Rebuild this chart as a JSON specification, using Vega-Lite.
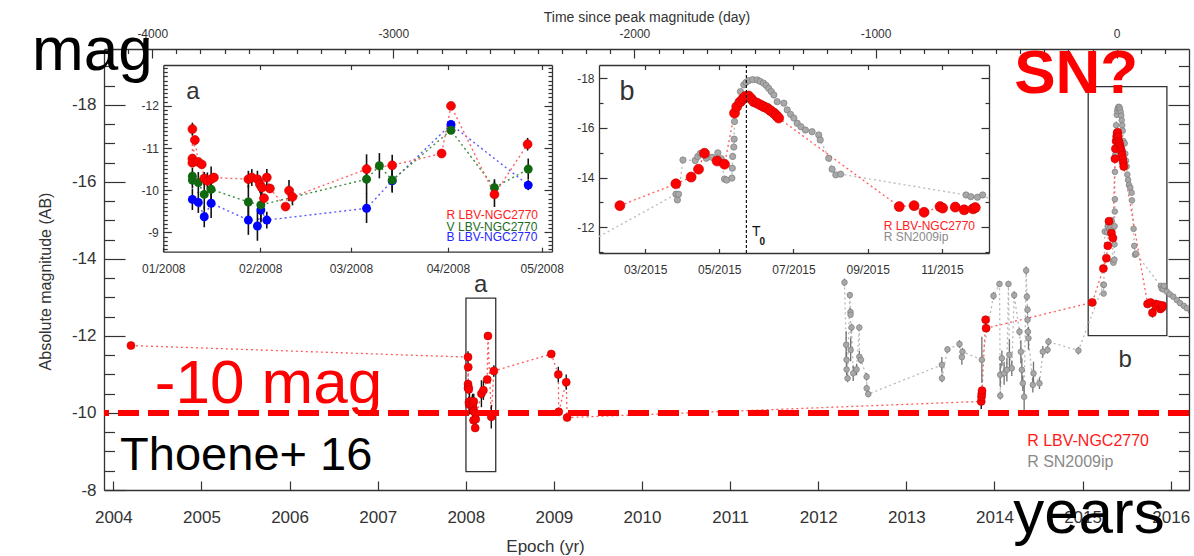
{
"$schema": "https://vega.github.io/schema/vega-lite/v6.json",
"width": 1085, "height": 441,
"autosize": {"type": "none"},
"padding": {"left": 104, "top": 49, "right": 5, "bottom": 66},
"background": "#ffffff",
"config": {
  "view": {"stroke": null},
  "axis": {"grid": false, "labelFont": "Liberation Sans", "titleFont": "Liberation Sans", "labelColor": "#333333", "titleColor": "#333333", "domainColor": "#333333", "tickColor": "#333333", "titleFontWeight": "normal", "domainWidth": 1.3, "tickWidth": 1.2, "labelFlush": false, "labelOverlap": false},
  "text": {"font": "Liberation Sans"}
},
"datasets": {
  "boxes": [
    {"x1": 2008.002, "x2": 2008.34, "y1": -12.98, "y2": -8.475},
    {"x1": 2015.064, "x2": 2015.957, "y1": -18.475, "y2": -12.01}
  ],
  "main": [
    {"s":"L","yr":2004.2,"mag":-11.75,"err":0.05},
    {"s":"L","yr":2008.0254,"mag":-11.45,"err":0.15},
    {"s":"L","yr":2008.0254,"mag":-10.75,"err":0.1},
    {"s":"L","yr":2008.0254,"mag":-10.65,"err":0.1},
    {"s":"L","yr":2008.0276,"mag":-11.19,"err":0.1},
    {"s":"L","yr":2008.0306,"mag":-10.67,"err":0.08},
    {"s":"L","yr":2008.0336,"mag":-10.61,"err":0.08},
    {"s":"L","yr":2008.0358,"mag":-10.28,"err":0.15},
    {"s":"L","yr":2008.0385,"mag":-10.22,"err":0.2},
    {"s":"L","yr":2008.0418,"mag":-10.26,"err":0.3},
    {"s":"L","yr":2008.0443,"mag":-10.3,"err":0.1},
    {"s":"L","yr":2008.0743,"mag":-10.26,"err":0.2},
    {"s":"L","yr":2008.0773,"mag":-10.3,"err":0.2},
    {"s":"L","yr":2008.0822,"mag":-10.26,"err":0.2},
    {"s":"L","yr":2008.0844,"mag":-10.14,"err":0.2},
    {"s":"L","yr":2008.0861,"mag":-10.06,"err":0.2},
    {"s":"L","yr":2008.088,"mag":-9.81,"err":0.1},
    {"s":"L","yr":2008.0904,"mag":-10.3,"err":0.2},
    {"s":"L","yr":2008.0932,"mag":-10.04,"err":0.1},
    {"s":"L","yr":2008.1068,"mag":-9.61,"err":0.05},
    {"s":"L","yr":2008.1098,"mag":-9.99,"err":0.25},
    {"s":"L","yr":2008.1128,"mag":-9.84,"err":0.2},
    {"s":"L","yr":2008.1776,"mag":-10.5,"err":0.35},
    {"s":"L","yr":2008.2,"mag":-10.59,"err":0.25},
    {"s":"L","yr":2008.2432,"mag":-10.87,"err":0.05},
    {"s":"L","yr":2008.2514,"mag":-12.0,"err":0.05},
    {"s":"L","yr":2008.2893,"mag":-9.9,"err":0.3},
    {"s":"L","yr":2008.3183,"mag":-11.09,"err":0.15},
    {"s":"L","yr":2008.97,"mag":-11.53,"err":0.05},
    {"s":"L","yr":2009.05,"mag":-11.0,"err":0.2},
    {"s":"L","yr":2009.055,"mag":-10.03,"err":0.05},
    {"s":"L","yr":2009.14,"mag":-10.8,"err":0.2},
    {"s":"L","yr":2009.15,"mag":-9.88,"err":0.05},
    {"s":"L","yr":2013.85,"mag":-10.3,"err":0.2},
    {"s":"L","yr":2013.853,"mag":-10.42,"err":0.1},
    {"s":"L","yr":2013.856,"mag":-10.5,"err":0.1},
    {"s":"L","yr":2013.859,"mag":-10.58,"err":0.1},
    {"s":"L","yr":2013.9,"mag":-12.42,"err":0.1},
    {"s":"L","yr":2013.905,"mag":-12.2,"err":0.1},
    {"s":"L","yr":2015.11,"mag":-12.87},
    {"s":"L","yr":2015.236,"mag":-13.75},
    {"s":"L","yr":2015.27,"mag":-14.02},
    {"s":"L","yr":2015.287,"mag":-14.34},
    {"s":"L","yr":2015.3,"mag":-14.98},
    {"s":"L","yr":2015.328,"mag":-14.67},
    {"s":"L","yr":2015.345,"mag":-14.54},
    {"s":"L","yr":2015.3675,"mag":-16.6},
    {"s":"L","yr":2015.3725,"mag":-16.86},
    {"s":"L","yr":2015.381,"mag":-17.06},
    {"s":"L","yr":2015.387,"mag":-17.18},
    {"s":"L","yr":2015.392,"mag":-17.27},
    {"s":"L","yr":2015.399,"mag":-17.29},
    {"s":"L","yr":2015.405,"mag":-17.18},
    {"s":"L","yr":2015.411,"mag":-17.06},
    {"s":"L","yr":2015.418,"mag":-17.0},
    {"s":"L","yr":2015.426,"mag":-16.93},
    {"s":"L","yr":2015.433,"mag":-16.86},
    {"s":"L","yr":2015.441,"mag":-16.8},
    {"s":"L","yr":2015.448,"mag":-16.7},
    {"s":"L","yr":2015.456,"mag":-16.6},
    {"s":"L","yr":2015.462,"mag":-16.5},
    {"s":"L","yr":2015.467,"mag":-16.4},
    {"s":"L","yr":2015.7375,"mag":-12.83},
    {"s":"L","yr":2015.771,"mag":-12.87},
    {"s":"L","yr":2015.793,"mag":-12.6,"err":0.12},
    {"s":"L","yr":2015.829,"mag":-12.83},
    {"s":"L","yr":2015.835,"mag":-12.77},
    {"s":"L","yr":2015.863,"mag":-12.81},
    {"s":"L","yr":2015.883,"mag":-12.7},
    {"s":"L","yr":2015.903,"mag":-12.74},
    {"s":"L","yr":2015.908,"mag":-12.79},
    {"s":"S","yr":2012.298,"mag":-13.39,"err":0.1},
    {"s":"S","yr":2012.317,"mag":-11.77,"err":0.35},
    {"s":"S","yr":2012.321,"mag":-11.38,"err":0.2},
    {"s":"S","yr":2012.322,"mag":-11.13,"err":0.15},
    {"s":"S","yr":2012.333,"mag":-10.9,"err":0.1},
    {"s":"S","yr":2012.359,"mag":-13.06,"err":0.08},
    {"s":"S","yr":2012.366,"mag":-12.62,"err":0.1},
    {"s":"S","yr":2012.367,"mag":-12.55},
    {"s":"S","yr":2012.368,"mag":-11.64,"err":0.3},
    {"s":"S","yr":2012.378,"mag":-12.22,"err":0.1},
    {"s":"S","yr":2012.397,"mag":-11.03,"err":0.2},
    {"s":"S","yr":2012.435,"mag":-11.13,"err":0.15},
    {"s":"S","yr":2012.466,"mag":-12.22,"err":0.08},
    {"s":"S","yr":2012.467,"mag":-11.46,"err":0.15},
    {"s":"S","yr":2012.485,"mag":-11.38,"err":0.1},
    {"s":"S","yr":2012.549,"mag":-10.94,"err":0.1},
    {"s":"S","yr":2012.55,"mag":-10.64,"err":0.1},
    {"s":"S","yr":2012.568,"mag":-10.49,"err":0.08},
    {"s":"S","yr":2013.403,"mag":-11.25,"err":0.2},
    {"s":"S","yr":2013.404,"mag":-10.9,"err":0.1},
    {"s":"S","yr":2013.467,"mag":-11.65,"err":0.08},
    {"s":"S","yr":2013.603,"mag":-11.79,"err":0.1},
    {"s":"S","yr":2013.63,"mag":-11.45,"err":0.2},
    {"s":"S","yr":2013.637,"mag":-11.59,"err":0.1},
    {"s":"S","yr":2013.857,"mag":-11.38,"err":0.6},
    {"s":"S","yr":2013.989,"mag":-13.04,"err":0.1},
    {"s":"S","yr":2014.057,"mag":-13.35,"err":0.08},
    {"s":"S","yr":2014.065,"mag":-10.99,"err":0.3},
    {"s":"S","yr":2014.066,"mag":-10.45,"err":0.1},
    {"s":"S","yr":2014.084,"mag":-11.42,"err":0.2},
    {"s":"S","yr":2014.11,"mag":-11.03,"err":0.3},
    {"s":"S","yr":2014.141,"mag":-11.12,"err":0.3},
    {"s":"S","yr":2014.159,"mag":-13.35,"err":0.08},
    {"s":"S","yr":2014.17,"mag":-11.51,"err":0.4},
    {"s":"S","yr":2014.197,"mag":-11.16,"err":0.2},
    {"s":"S","yr":2014.224,"mag":-13.06,"err":0.1},
    {"s":"S","yr":2014.284,"mag":-12.11,"err":0.1},
    {"s":"S","yr":2014.3,"mag":-11.59,"err":0.3},
    {"s":"S","yr":2014.311,"mag":-11.12,"err":0.3},
    {"s":"S","yr":2014.322,"mag":-10.77,"err":0.2},
    {"s":"S","yr":2014.337,"mag":-10.42,"err":0.4},
    {"s":"S","yr":2014.36,"mag":-13.7,"err":0.1},
    {"s":"S","yr":2014.368,"mag":-13.02,"err":0.1},
    {"s":"S","yr":2014.375,"mag":-12.68,"err":0.1},
    {"s":"S","yr":2014.376,"mag":-12.42,"err":0.1},
    {"s":"S","yr":2014.38,"mag":-12.11,"err":0.1},
    {"s":"S","yr":2014.386,"mag":-11.94,"err":0.3},
    {"s":"S","yr":2014.436,"mag":-10.73,"err":0.2},
    {"s":"S","yr":2014.443,"mag":-11.03,"err":0.3},
    {"s":"S","yr":2014.511,"mag":-10.77,"err":0.15},
    {"s":"S","yr":2014.549,"mag":-11.59,"err":0.15},
    {"s":"S","yr":2014.602,"mag":-11.64,"err":0.1},
    {"s":"S","yr":2014.613,"mag":-11.85,"err":0.1},
    {"s":"S","yr":2014.953,"mag":-11.62,"err":0.1},
    {"s":"S","yr":2015.2358,"mag":-13.33},
    {"s":"S","yr":2015.2392,"mag":-13.1},
    {"s":"S","yr":2015.2417,"mag":-13.33},
    {"s":"S","yr":2015.2517,"mag":-14.71},
    {"s":"S","yr":2015.2792,"mag":-14.69},
    {"s":"S","yr":2015.285,"mag":-14.85},
    {"s":"S","yr":2015.2908,"mag":-14.98},
    {"s":"S","yr":2015.3042,"mag":-14.78},
    {"s":"S","yr":2015.3167,"mag":-14.82},
    {"s":"S","yr":2015.33,"mag":-15.0},
    {"s":"S","yr":2015.3375,"mag":-14.76},
    {"s":"S","yr":2015.345,"mag":-13.94},
    {"s":"S","yr":2015.35,"mag":-13.9},
    {"s":"S","yr":2015.3617,"mag":-13.98},
    {"s":"S","yr":2015.3625,"mag":-14.38},
    {"s":"S","yr":2015.3633,"mag":-14.85},
    {"s":"S","yr":2015.3658,"mag":-15.23},
    {"s":"S","yr":2015.3667,"mag":-15.55},
    {"s":"S","yr":2015.3675,"mag":-16.26},
    {"s":"S","yr":2015.37,"mag":-16.7},
    {"s":"S","yr":2015.375,"mag":-17.06},
    {"s":"S","yr":2015.3808,"mag":-17.47},
    {"s":"S","yr":2015.3883,"mag":-17.74},
    {"s":"S","yr":2015.3933,"mag":-17.84},
    {"s":"S","yr":2015.3992,"mag":-17.91},
    {"s":"S","yr":2015.4083,"mag":-17.95},
    {"s":"S","yr":2015.4183,"mag":-17.94},
    {"s":"S","yr":2015.425,"mag":-17.88},
    {"s":"S","yr":2015.4325,"mag":-17.81},
    {"s":"S","yr":2015.4383,"mag":-17.72},
    {"s":"S","yr":2015.4442,"mag":-17.6},
    {"s":"S","yr":2015.45,"mag":-17.47},
    {"s":"S","yr":2015.4558,"mag":-17.33},
    {"s":"S","yr":2015.4633,"mag":-17.06},
    {"s":"S","yr":2015.4783,"mag":-17.0},
    {"s":"S","yr":2015.4858,"mag":-16.73},
    {"s":"S","yr":2015.4933,"mag":-16.55},
    {"s":"S","yr":2015.5008,"mag":-16.4},
    {"s":"S","yr":2015.5083,"mag":-16.19},
    {"s":"S","yr":2015.5167,"mag":-16.05},
    {"s":"S","yr":2015.5267,"mag":-15.92},
    {"s":"S","yr":2015.5417,"mag":-15.85},
    {"s":"S","yr":2015.5567,"mag":-15.72},
    {"s":"S","yr":2015.56,"mag":-15.52},
    {"s":"S","yr":2015.5792,"mag":-14.78},
    {"s":"S","yr":2015.5867,"mag":-14.34},
    {"s":"S","yr":2015.595,"mag":-14.11},
    {"s":"S","yr":2015.6058,"mag":-14.14},
    {"s":"S","yr":2015.8875,"mag":-13.3},
    {"s":"S","yr":2015.8983,"mag":-13.23},
    {"s":"S","yr":2015.9133,"mag":-13.21},
    {"s":"S","yr":2015.925,"mag":-13.3},
    {"s":"S","yr":2015.957,"mag":-13.15},
    {"s":"S","yr":2015.99,"mag":-13.08},
    {"s":"S","yr":2016.03,"mag":-13.02},
    {"s":"S","yr":2016.07,"mag":-12.93},
    {"s":"S","yr":2016.107,"mag":-12.85},
    {"s":"S","yr":2016.15,"mag":-12.78},
    {"s":"S","yr":2016.183,"mag":-12.72},
    {"s":"S","yr":2016.23,"mag":-12.64}
  ],
  "insa": [
    {"b":"B","day":9.3,"mag":-9.78,"err":0.25},
    {"b":"B","day":11.2,"mag":-9.71,"err":0.25},
    {"b":"B","day":13.1,"mag":-9.37,"err":0.25},
    {"b":"B","day":15.3,"mag":-9.69,"err":0.35},
    {"b":"B","day":27.2,"mag":-9.29,"err":0.35},
    {"b":"B","day":30.1,"mag":-9.15,"err":0.35},
    {"b":"B","day":31.2,"mag":-9.53,"err":0.3},
    {"b":"B","day":33.1,"mag":-9.29,"err":0.2},
    {"b":"B","day":65.0,"mag":-9.57,"err":0.35},
    {"b":"B","day":73.2,"mag":-10.22,"err":0.25},
    {"b":"B","day":92.0,"mag":-11.56,"err":0.05},
    {"b":"B","day":116.7,"mag":-10.12,"err":0.12},
    {"b":"V","day":9.3,"mag":-10.33,"err":0.2},
    {"b":"V","day":9.3,"mag":-10.24,"err":0.2},
    {"b":"V","day":11.2,"mag":-10.18,"err":0.25},
    {"b":"V","day":13.1,"mag":-9.9,"err":0.35},
    {"b":"V","day":15.3,"mag":-10.02,"err":0.3},
    {"b":"V","day":27.2,"mag":-9.72,"err":0.4},
    {"b":"V","day":31.2,"mag":-9.65,"err":0.4},
    {"b":"V","day":65.0,"mag":-10.26,"err":0.35},
    {"b":"V","day":69.1,"mag":-10.58,"err":0.3},
    {"b":"V","day":73.2,"mag":-10.24,"err":0.3},
    {"b":"V","day":92.0,"mag":-11.42,"err":0.05},
    {"b":"V","day":105.9,"mag":-10.06,"err":0.2},
    {"b":"V","day":116.7,"mag":-10.5,"err":0.25},
    {"b":"R","day":9.3,"mag":-11.45,"err":0.15},
    {"b":"R","day":9.3,"mag":-10.75,"err":0.1},
    {"b":"R","day":9.3,"mag":-10.65,"err":0.1},
    {"b":"R","day":10.1,"mag":-11.19,"err":0.1},
    {"b":"R","day":11.2,"mag":-10.67,"err":0.08},
    {"b":"R","day":12.3,"mag":-10.61,"err":0.08},
    {"b":"R","day":13.1,"mag":-10.28,"err":0.15},
    {"b":"R","day":14.1,"mag":-10.22,"err":0.2},
    {"b":"R","day":15.3,"mag":-10.26,"err":0.3},
    {"b":"R","day":16.2,"mag":-10.3,"err":0.1},
    {"b":"R","day":27.2,"mag":-10.26,"err":0.2},
    {"b":"R","day":28.3,"mag":-10.3,"err":0.2},
    {"b":"R","day":30.1,"mag":-10.26,"err":0.2},
    {"b":"R","day":30.9,"mag":-10.14,"err":0.2},
    {"b":"R","day":31.5,"mag":-10.06,"err":0.2},
    {"b":"R","day":32.2,"mag":-9.81,"err":0.1},
    {"b":"R","day":33.1,"mag":-10.3,"err":0.2},
    {"b":"R","day":34.1,"mag":-10.04,"err":0.1},
    {"b":"R","day":39.1,"mag":-9.61,"err":0.05},
    {"b":"R","day":40.2,"mag":-9.99,"err":0.25},
    {"b":"R","day":41.3,"mag":-9.84,"err":0.2},
    {"b":"R","day":65.0,"mag":-10.5,"err":0.35},
    {"b":"R","day":73.2,"mag":-10.59,"err":0.25},
    {"b":"R","day":89.0,"mag":-10.87,"err":0.05},
    {"b":"R","day":92.0,"mag":-12.0,"err":0.05},
    {"b":"R","day":105.9,"mag":-9.9,"err":0.3},
    {"b":"R","day":116.5,"mag":-11.09,"err":0.15}
  ],
  "insb": [
    {"s":"S","m":-0.56,"mag":-11.62},
    {"s":"S","m":2.83,"mag":-13.33,"err":0.08},
    {"s":"S","m":2.87,"mag":-13.1,"err":0.08},
    {"s":"S","m":2.9,"mag":-13.33},
    {"s":"S","m":3.02,"mag":-14.71},
    {"s":"S","m":3.35,"mag":-14.69},
    {"s":"S","m":3.42,"mag":-14.85},
    {"s":"S","m":3.49,"mag":-14.98},
    {"s":"S","m":3.65,"mag":-14.78},
    {"s":"S","m":3.8,"mag":-14.82},
    {"s":"S","m":3.96,"mag":-15.0},
    {"s":"S","m":4.05,"mag":-14.76},
    {"s":"S","m":4.14,"mag":-13.94,"err":0.08},
    {"s":"S","m":4.2,"mag":-13.9},
    {"s":"S","m":4.34,"mag":-13.98,"err":0.08},
    {"s":"S","m":4.35,"mag":-14.38},
    {"s":"S","m":4.36,"mag":-14.85},
    {"s":"S","m":4.39,"mag":-15.23},
    {"s":"S","m":4.4,"mag":-15.55},
    {"s":"S","m":4.41,"mag":-16.26},
    {"s":"S","m":4.44,"mag":-16.7},
    {"s":"S","m":4.5,"mag":-17.06},
    {"s":"S","m":4.57,"mag":-17.47},
    {"s":"S","m":4.66,"mag":-17.74},
    {"s":"S","m":4.72,"mag":-17.84},
    {"s":"S","m":4.79,"mag":-17.91},
    {"s":"S","m":4.9,"mag":-17.95},
    {"s":"S","m":5.02,"mag":-17.94},
    {"s":"S","m":5.1,"mag":-17.88},
    {"s":"S","m":5.19,"mag":-17.81},
    {"s":"S","m":5.26,"mag":-17.72},
    {"s":"S","m":5.33,"mag":-17.6},
    {"s":"S","m":5.4,"mag":-17.47},
    {"s":"S","m":5.47,"mag":-17.33},
    {"s":"S","m":5.56,"mag":-17.06},
    {"s":"S","m":5.74,"mag":-17.0},
    {"s":"S","m":5.83,"mag":-16.73},
    {"s":"S","m":5.92,"mag":-16.55},
    {"s":"S","m":6.01,"mag":-16.4},
    {"s":"S","m":6.1,"mag":-16.19},
    {"s":"S","m":6.2,"mag":-16.05},
    {"s":"S","m":6.32,"mag":-15.92},
    {"s":"S","m":6.5,"mag":-15.85},
    {"s":"S","m":6.68,"mag":-15.72},
    {"s":"S","m":6.72,"mag":-15.52},
    {"s":"S","m":6.95,"mag":-14.78},
    {"s":"S","m":7.04,"mag":-14.34},
    {"s":"S","m":7.14,"mag":-14.11,"err":0.08},
    {"s":"S","m":7.27,"mag":-14.14},
    {"s":"S","m":10.65,"mag":-13.3},
    {"s":"S","m":10.78,"mag":-13.23},
    {"s":"S","m":10.96,"mag":-13.21},
    {"s":"S","m":11.1,"mag":-13.3},
    {"s":"S","m":11.48,"mag":-13.15},
    {"s":"L","m":1.32,"mag":-12.87},
    {"s":"L","m":2.83,"mag":-13.75},
    {"s":"L","m":3.24,"mag":-14.02},
    {"s":"L","m":3.44,"mag":-14.34},
    {"s":"L","m":3.6,"mag":-14.98},
    {"s":"L","m":3.94,"mag":-14.67},
    {"s":"L","m":4.14,"mag":-14.54},
    {"s":"L","m":4.41,"mag":-16.6},
    {"s":"L","m":4.47,"mag":-16.86},
    {"s":"L","m":4.57,"mag":-17.06},
    {"s":"L","m":4.64,"mag":-17.18},
    {"s":"L","m":4.7,"mag":-17.27},
    {"s":"L","m":4.79,"mag":-17.29},
    {"s":"L","m":4.86,"mag":-17.18},
    {"s":"L","m":4.93,"mag":-17.06},
    {"s":"L","m":5.02,"mag":-17.0},
    {"s":"L","m":5.11,"mag":-16.93},
    {"s":"L","m":5.2,"mag":-16.86},
    {"s":"L","m":5.29,"mag":-16.8},
    {"s":"L","m":5.38,"mag":-16.7},
    {"s":"L","m":5.47,"mag":-16.6},
    {"s":"L","m":5.54,"mag":-16.5},
    {"s":"L","m":5.6,"mag":-16.4},
    {"s":"L","m":8.85,"mag":-12.83},
    {"s":"L","m":9.25,"mag":-12.87},
    {"s":"L","m":9.52,"mag":-12.6,"err":0.12},
    {"s":"L","m":9.95,"mag":-12.83},
    {"s":"L","m":10.02,"mag":-12.77},
    {"s":"L","m":10.36,"mag":-12.81},
    {"s":"L","m":10.6,"mag":-12.7},
    {"s":"L","m":10.84,"mag":-12.74},
    {"s":"L","m":10.9,"mag":-12.79}
  ]
},
"layer": [
  {
    "layer": [
      {"data": {"name": "boxes"}, "mark": {"type": "rect", "fill": "#ffffff", "fillOpacity": 0, "stroke": "#333333", "strokeWidth": 1.3},
       "encoding": {"x": {"field": "x1", "type": "quantitative", "scale": {"domain": [2003.894, 2016.208], "range": [0, 1085], "nice": false, "zero": false}, "axis": null}, "x2": {"field": "x2"},
                    "y": {"field": "y1", "type": "quantitative", "scale": {"domain": [-19.45, -8], "range": [0, 441], "nice": false, "zero": false}, "axis": null}, "y2": {"field": "y2"}}},
      {"data": {"name": "main"}, "transform": [{"filter": "datum.s == 'S'"}], "mark": {"type": "line", "color": "#b8b8b8", "strokeWidth": 1.3, "strokeDash": [2, 3], "clip": true},
       "encoding": {"x": {"field": "yr", "type": "quantitative", "scale": {"domain": [2003.894, 2016.208], "range": [0, 1085], "nice": false, "zero": false}, "axis": null},
                    "y": {"field": "mag", "type": "quantitative", "scale": {"domain": [-19.45, -8], "range": [0, 441], "nice": false, "zero": false}, "axis": null}}},
      {"data": {"name": "main"}, "transform": [{"filter": "datum.s == 'L'"}], "mark": {"type": "line", "color": "#ff5a5a", "strokeWidth": 1.3, "strokeDash": [2, 3], "clip": true},
       "encoding": {"x": {"field": "yr", "type": "quantitative", "scale": {"domain": [2003.894, 2016.208], "range": [0, 1085], "nice": false, "zero": false}, "axis": null},
                    "y": {"field": "mag", "type": "quantitative", "scale": {"domain": [-19.45, -8], "range": [0, 441], "nice": false, "zero": false}, "axis": null}}},
      {"data": {"name": "main"}, "transform": [{"filter": "datum.s == 'S' && datum.err > 0"}], "mark": {"type": "errorbar", "color": "#707070", "thickness": 1.3},
       "encoding": {"x": {"field": "yr", "type": "quantitative", "scale": {"domain": [2003.894, 2016.208], "range": [0, 1085], "nice": false, "zero": false}, "axis": null},
                    "y": {"field": "mag", "type": "quantitative", "scale": {"domain": [-19.45, -8], "range": [0, 441], "nice": false, "zero": false}, "axis": null},
                    "yError": {"field": "err"}}},
      {"data": {"name": "main"}, "transform": [{"filter": "datum.s == 'L' && datum.err > 0"}], "mark": {"type": "errorbar", "color": "#111111", "thickness": 1.4},
       "encoding": {"x": {"field": "yr", "type": "quantitative", "scale": {"domain": [2003.894, 2016.208], "range": [0, 1085], "nice": false, "zero": false}, "axis": null},
                    "y": {"field": "mag", "type": "quantitative", "scale": {"domain": [-19.45, -8], "range": [0, 441], "nice": false, "zero": false}, "axis": null},
                    "yError": {"field": "err"}}},
      {"data": {"name": "main"}, "transform": [{"filter": "datum.s == 'S'"}], "mark": {"type": "point", "filled": true, "color": "#a8a8a8", "stroke": "#7c7c7c", "strokeWidth": 0.7, "size": 32, "opacity": 1, "clip": true},
       "encoding": {"x": {"field": "yr", "type": "quantitative", "scale": {"domain": [2003.894, 2016.208], "range": [0, 1085], "nice": false, "zero": false}, "axis": null},
                    "y": {"field": "mag", "type": "quantitative", "scale": {"domain": [-19.45, -8], "range": [0, 441], "nice": false, "zero": false}, "axis": null}}},
      {"data": {"name": "main"}, "transform": [{"filter": "datum.s == 'L'"}], "mark": {"type": "point", "filled": true, "color": "#ff0000", "stroke": "#c00000", "strokeWidth": 0.6, "size": 64, "opacity": 1, "clip": true},
       "encoding": {"x": {"field": "yr", "type": "quantitative", "scale": {"domain": [2003.894, 2016.208], "range": [0, 1085], "nice": false, "zero": false}, "axis": null},
                    "y": {"field": "mag", "type": "quantitative", "scale": {"domain": [-19.45, -8], "range": [0, 441], "nice": false, "zero": false}, "axis": null}}},
      {"data": {"values": [{"mag": -10}]}, "mark": {"type": "rule", "color": "#ff0000", "strokeWidth": 6, "strokeDash": [21, 9]},
       "encoding": {"y": {"field": "mag", "type": "quantitative", "scale": {"domain": [-19.45, -8], "range": [0, 441], "nice": false, "zero": false}, "axis": null}}},
      {"data": {"values": [{"t": "a", "yr": 2008.17, "mag": -13.32}, {"t": "b", "yr": 2015.484, "mag": -11.38}]}, "mark": {"type": "text", "fontSize": 24, "color": "#333333", "align": "center", "baseline": "middle"},
       "encoding": {"x": {"field": "yr", "type": "quantitative", "scale": {"domain": [2003.894, 2016.208], "range": [0, 1085], "nice": false, "zero": false}, "axis": null},
                    "y": {"field": "mag", "type": "quantitative", "scale": {"domain": [-19.45, -8], "range": [0, 441], "nice": false, "zero": false}, "axis": null}, "text": {"field": "t"}}},
      {"data": {"values": [{"t": "R LBV-NGC2770", "yr": 2014.371, "mag": -9.28}]}, "mark": {"type": "text", "fontSize": 16, "color": "#ff1a1a", "align": "left", "baseline": "middle"},
       "encoding": {"x": {"field": "yr", "type": "quantitative", "scale": {"domain": [2003.894, 2016.208], "range": [0, 1085], "nice": false, "zero": false}, "axis": null},
                    "y": {"field": "mag", "type": "quantitative", "scale": {"domain": [-19.45, -8], "range": [0, 441], "nice": false, "zero": false}, "axis": null}, "text": {"field": "t"}}},
      {"data": {"values": [{"t": "R SN2009ip", "yr": 2014.371, "mag": -8.72}]}, "mark": {"type": "text", "fontSize": 16, "color": "#8a8a8a", "align": "left", "baseline": "middle"},
       "encoding": {"x": {"field": "yr", "type": "quantitative", "scale": {"domain": [2003.894, 2016.208], "range": [0, 1085], "nice": false, "zero": false}, "axis": null},
                    "y": {"field": "mag", "type": "quantitative", "scale": {"domain": [-19.45, -8], "range": [0, 441], "nice": false, "zero": false}, "axis": null}, "text": {"field": "t"}}},
      {"data": {"values": [{"t": "mag", "yr": 2003.077, "mag": -18.909}, {"t": "years", "yr": 2014.212, "mag": -6.88}]}, "mark": {"type": "text", "fontSize": 62, "color": "#000000", "align": "left", "baseline": "alphabetic"},
       "encoding": {"x": {"field": "yr", "type": "quantitative", "scale": {"domain": [2003.894, 2016.208], "range": [0, 1085], "nice": false, "zero": false}, "axis": null},
                    "y": {"field": "mag", "type": "quantitative", "scale": {"domain": [-19.45, -8], "range": [0, 441], "nice": false, "zero": false}, "axis": null}, "text": {"field": "t"}}},
      {"data": {"values": [{"t": "Thoene+ 16", "yr": 2004.077, "mag": -8.52}]}, "mark": {"type": "text", "fontSize": 47, "color": "#000000", "align": "left", "baseline": "alphabetic"},
       "encoding": {"x": {"field": "yr", "type": "quantitative", "scale": {"domain": [2003.894, 2016.208], "range": [0, 1085], "nice": false, "zero": false}, "axis": null},
                    "y": {"field": "mag", "type": "quantitative", "scale": {"domain": [-19.45, -8], "range": [0, 441], "nice": false, "zero": false}, "axis": null}, "text": {"field": "t"}}},
      {"data": {"values": [{"t": "-10 mag", "yr": 2004.47, "mag": -10.26}]}, "mark": {"type": "text", "fontSize": 62, "color": "#ff0000", "align": "left", "baseline": "alphabetic"},
       "encoding": {"x": {"field": "yr", "type": "quantitative", "scale": {"domain": [2003.894, 2016.208], "range": [0, 1085], "nice": false, "zero": false}, "axis": null},
                    "y": {"field": "mag", "type": "quantitative", "scale": {"domain": [-19.45, -8], "range": [0, 441], "nice": false, "zero": false}, "axis": null}, "text": {"field": "t"}}},
      {"data": {"values": [{"t": "SN?", "yr": 2014.927, "mag": -18.32}]}, "mark": {"type": "text", "fontSize": 62, "fontWeight": "bold", "color": "#ff0000", "align": "center", "baseline": "alphabetic"},
       "encoding": {"x": {"field": "yr", "type": "quantitative", "scale": {"domain": [2003.894, 2016.208], "range": [0, 1085], "nice": false, "zero": false}, "axis": null},
                    "y": {"field": "mag", "type": "quantitative", "scale": {"domain": [-19.45, -8], "range": [0, 441], "nice": false, "zero": false}, "axis": null}, "text": {"field": "t"}}},
      {"data": {"values": [{"yr": 2010, "mag": -12}]}, "mark": {"type": "point", "opacity": 0},
       "encoding": {"x": {"field": "yr", "type": "quantitative", "scale": {"domain": [2003.894, 2016.208], "range": [0, 1085], "nice": false, "zero": false},
                          "axis": {"orient": "bottom", "values": [2004, 2005, 2006, 2007, 2008, 2009, 2010, 2011, 2012, 2013, 2014, 2015, 2016], "format": "d", "labelFontSize": 17, "tickSize": -9, "labelPadding": 28, "title": "Epoch (yr)", "titleFontSize": 17, "titleX": 441, "titleY": 61, "titleBaseline": "alphabetic", "titleAlign": "center"}},
                    "y": {"field": "mag", "type": "quantitative", "scale": {"domain": [-19.45, -8], "range": [0, 441], "nice": false, "zero": false},
                          "axis": {"orient": "left", "values": [-18, -16, -14, -12, -10, -8], "labelExpr": "'-' + abs(datum.value)", "labelFontSize": 17, "tickSize": -21, "labelPadding": 29, "title": "Absolute magnitude (AB)", "titleFontSize": 16, "titleX": -54, "titleY": 232, "titleAngle": 270, "titleBaseline": "alphabetic", "titleAlign": "center"}}}},
      {"data": {"values": [{"yr": 2010, "mag": -12}]}, "mark": {"type": "point", "opacity": 0},
       "encoding": {"x": {"field": "yr", "type": "quantitative", "scale": {"domain": [2003.894, 2016.208], "range": [0, 1085], "nice": false, "zero": false}, "axis": null},
                    "y": {"field": "mag", "type": "quantitative", "scale": {"domain": [-19.45, -8], "range": [0, 441], "nice": false, "zero": false},
                          "axis": {"orient": "right", "values": [-18, -16, -14, -12, -10, -8], "labels": false, "tickSize": -21, "title": null}}}},
      {"data": {"values": [{"yr": 2010, "mag": -12}]}, "mark": {"type": "point", "opacity": 0},
       "encoding": {"x": {"field": "yr", "type": "quantitative", "scale": {"domain": [2003.894, 2016.208], "range": [0, 1085], "nice": false, "zero": false}, "axis": null},
                    "y": {"field": "mag", "type": "quantitative", "scale": {"domain": [-19.45, -8], "range": [0, 441], "nice": false, "zero": false},
                          "axis": {"orient": "left", "values": [-8.5, -9, -9.5, -10.5, -11, -11.5, -12.5, -13, -13.5, -14.5, -15, -15.5, -16.5, -17, -17.5, -18.5, -19], "labels": false, "domain": false, "tickSize": -10.5, "title": null}}}},
      {"data": {"values": [{"yr": 2010, "mag": -12}]}, "mark": {"type": "point", "opacity": 0},
       "encoding": {"x": {"field": "yr", "type": "quantitative", "scale": {"domain": [2003.894, 2016.208], "range": [0, 1085], "nice": false, "zero": false}, "axis": null},
                    "y": {"field": "mag", "type": "quantitative", "scale": {"domain": [-19.45, -8], "range": [0, 441], "nice": false, "zero": false},
                          "axis": {"orient": "right", "values": [-8.5, -9, -9.5, -10.5, -11, -11.5, -12.5, -13, -13.5, -14.5, -15, -15.5, -16.5, -17, -17.5, -18.5, -19], "labels": false, "domain": false, "tickSize": -10.5, "title": null}}}}
    ],
    "resolve": {"axis": {"x": "independent", "y": "independent"}}
  },
  {
    "data": {"values": [{"d": 0}]},
    "layer": [
      {"mark": {"type": "point", "opacity": 0},
       "encoding": {"x": {"field": "d", "type": "quantitative", "scale": {"domain": [-4200, 300], "range": [0, 1085], "nice": false, "zero": false},
                          "axis": {"orient": "top", "values": [-4000, -3000, -2000, -1000, 0], "labelExpr": "datum.value < 0 ? '-' + abs(datum.value) : '' + datum.value", "labelFontSize": 12, "tickSize": -9, "labelPadding": 18, "title": "Time since peak magnitude (day)", "titleFontSize": 14, "titleY": -28, "titleBaseline": "alphabetic"}}}},
      {"mark": {"type": "point", "opacity": 0},
       "encoding": {"x": {"field": "d", "type": "quantitative", "scale": {"domain": [-4200, 300], "range": [0, 1085], "nice": false, "zero": false},
                          "axis": {"orient": "top", "values": [-4100, -3900, -3800, -3700, -3600, -3500, -3400, -3300, -3200, -3100, -2900, -2800, -2700, -2600, -2500, -2400, -2300, -2200, -2100, -1900, -1800, -1700, -1600, -1500, -1400, -1300, -1200, -1100, -900, -800, -700, -600, -500, -400, -300, -200, -100, 100, 200], "labels": false, "domain": false, "tickSize": -4.5, "title": null}}}}
    ],
    "resolve": {"axis": {"x": "independent"}}
  },
  {
    "layer": [
      {"data": {"name": "insa"}, "transform": [{"filter": "datum.b == 'B'"}], "mark": {"type": "line", "color": "#5a5aff", "strokeWidth": 1.4, "strokeDash": [2, 3]},
       "encoding": {"x": {"field": "day", "type": "quantitative", "scale": {"domain": [0, 124.3], "range": [59.3, 448], "nice": false, "zero": false}, "axis": null},
                    "y": {"field": "mag", "type": "quantitative", "scale": {"domain": [-12.97, -8.54], "range": [16, 202.7], "nice": false, "zero": false}, "axis": null}}},
      {"data": {"name": "insa"}, "transform": [{"filter": "datum.b == 'V'"}], "mark": {"type": "line", "color": "#3f8a3f", "strokeWidth": 1.4, "strokeDash": [2, 3]},
       "encoding": {"x": {"field": "day", "type": "quantitative", "scale": {"domain": [0, 124.3], "range": [59.3, 448], "nice": false, "zero": false}, "axis": null},
                    "y": {"field": "mag", "type": "quantitative", "scale": {"domain": [-12.97, -8.54], "range": [16, 202.7], "nice": false, "zero": false}, "axis": null}}},
      {"data": {"name": "insa"}, "transform": [{"filter": "datum.b == 'R'"}], "mark": {"type": "line", "color": "#ff6262", "strokeWidth": 1.4, "strokeDash": [2, 3]},
       "encoding": {"x": {"field": "day", "type": "quantitative", "scale": {"domain": [0, 124.3], "range": [59.3, 448], "nice": false, "zero": false}, "axis": null},
                    "y": {"field": "mag", "type": "quantitative", "scale": {"domain": [-12.97, -8.54], "range": [16, 202.7], "nice": false, "zero": false}, "axis": null}}},
      {"data": {"name": "insa"}, "transform": [{"filter": "datum.err > 0"}], "mark": {"type": "errorbar", "color": "#111111", "thickness": 1.6},
       "encoding": {"x": {"field": "day", "type": "quantitative", "scale": {"domain": [0, 124.3], "range": [59.3, 448], "nice": false, "zero": false}, "axis": null},
                    "y": {"field": "mag", "type": "quantitative", "scale": {"domain": [-12.97, -8.54], "range": [16, 202.7], "nice": false, "zero": false}, "axis": null},
                    "yError": {"field": "err"}}},
      {"data": {"name": "insa"}, "transform": [{"filter": "datum.b == 'B'"}], "mark": {"type": "point", "filled": true, "color": "#0000ff", "size": 80, "opacity": 1},
       "encoding": {"x": {"field": "day", "type": "quantitative", "scale": {"domain": [0, 124.3], "range": [59.3, 448], "nice": false, "zero": false}, "axis": null},
                    "y": {"field": "mag", "type": "quantitative", "scale": {"domain": [-12.97, -8.54], "range": [16, 202.7], "nice": false, "zero": false}, "axis": null}}},
      {"data": {"name": "insa"}, "transform": [{"filter": "datum.b == 'V'"}], "mark": {"type": "point", "filled": true, "color": "#11690f", "size": 80, "opacity": 1},
       "encoding": {"x": {"field": "day", "type": "quantitative", "scale": {"domain": [0, 124.3], "range": [59.3, 448], "nice": false, "zero": false}, "axis": null},
                    "y": {"field": "mag", "type": "quantitative", "scale": {"domain": [-12.97, -8.54], "range": [16, 202.7], "nice": false, "zero": false}, "axis": null}}},
      {"data": {"name": "insa"}, "transform": [{"filter": "datum.b == 'R'"}], "mark": {"type": "point", "filled": true, "color": "#ff0000", "stroke": "#c00000", "strokeWidth": 0.6, "size": 80, "opacity": 1},
       "encoding": {"x": {"field": "day", "type": "quantitative", "scale": {"domain": [0, 124.3], "range": [59.3, 448], "nice": false, "zero": false}, "axis": null},
                    "y": {"field": "mag", "type": "quantitative", "scale": {"domain": [-12.97, -8.54], "range": [16, 202.7], "nice": false, "zero": false}, "axis": null}}},
      {"data": {"values": [{"t": "a", "day": 9.5, "mag": -12.32}]}, "mark": {"type": "text", "fontSize": 24, "color": "#333333", "align": "center", "baseline": "middle"},
       "encoding": {"x": {"field": "day", "type": "quantitative", "scale": {"domain": [0, 124.3], "range": [59.3, 448], "nice": false, "zero": false}, "axis": null},
                    "y": {"field": "mag", "type": "quantitative", "scale": {"domain": [-12.97, -8.54], "range": [16, 202.7], "nice": false, "zero": false}, "axis": null}, "text": {"field": "t"}}},
      {"data": {"values": [{"t": "R LBV-NGC2770", "day": 90.6, "mag": -9.41}]}, "mark": {"type": "text", "fontSize": 12, "color": "#ff2020", "align": "left", "baseline": "middle"},
       "encoding": {"x": {"field": "day", "type": "quantitative", "scale": {"domain": [0, 124.3], "range": [59.3, 448], "nice": false, "zero": false}, "axis": null},
                    "y": {"field": "mag", "type": "quantitative", "scale": {"domain": [-12.97, -8.54], "range": [16, 202.7], "nice": false, "zero": false}, "axis": null}, "text": {"field": "t"}}},
      {"data": {"values": [{"t": "V LBV-NGC2770", "day": 90.6, "mag": -9.13}]}, "mark": {"type": "text", "fontSize": 12, "color": "#1d6b1d", "align": "left", "baseline": "middle"},
       "encoding": {"x": {"field": "day", "type": "quantitative", "scale": {"domain": [0, 124.3], "range": [59.3, 448], "nice": false, "zero": false}, "axis": null},
                    "y": {"field": "mag", "type": "quantitative", "scale": {"domain": [-12.97, -8.54], "range": [16, 202.7], "nice": false, "zero": false}, "axis": null}, "text": {"field": "t"}}},
      {"data": {"values": [{"t": "B LBV-NGC2770", "day": 90.6, "mag": -8.9}]}, "mark": {"type": "text", "fontSize": 12, "color": "#2626ff", "align": "left", "baseline": "middle"},
       "encoding": {"x": {"field": "day", "type": "quantitative", "scale": {"domain": [0, 124.3], "range": [59.3, 448], "nice": false, "zero": false}, "axis": null},
                    "y": {"field": "mag", "type": "quantitative", "scale": {"domain": [-12.97, -8.54], "range": [16, 202.7], "nice": false, "zero": false}, "axis": null}, "text": {"field": "t"}}},
      {"data": {"values": [{"day": 50, "mag": -10}]}, "mark": {"type": "point", "opacity": 0},
       "encoding": {"x": {"field": "day", "type": "quantitative", "scale": {"domain": [0, 124.3], "range": [59.3, 448], "nice": false, "zero": false},
                          "axis": {"orient": "bottom", "offset": -238.3, "values": [0, 31, 60, 91, 121], "labelExpr": "datum.value == 0 ? '01/2008' : datum.value == 31 ? '02/2008' : datum.value == 60 ? '03/2008' : datum.value == 91 ? '04/2008' : '05/2008'", "labelFontSize": 12, "tickSize": -4.5, "labelPadding": 16, "title": null}},
                    "y": {"field": "mag", "type": "quantitative", "scale": {"domain": [-12.97, -8.54], "range": [16, 202.7], "nice": false, "zero": false},
                          "axis": {"orient": "left", "offset": -59.3, "values": [-13, -12, -11, -10, -9], "labelExpr": "'-' + abs(datum.value)", "labelFontSize": 12, "tickSize": -8, "labelPadding": 13, "title": null}}}},
      {"data": {"values": [{"day": 50, "mag": -10}]}, "mark": {"type": "point", "opacity": 0},
       "encoding": {"x": {"field": "day", "type": "quantitative", "scale": {"domain": [0, 124.3], "range": [59.3, 448], "nice": false, "zero": false},
                          "axis": {"orient": "top", "offset": -16, "values": [31, 60, 91, 121], "labels": false, "tickSize": -4.5, "title": null}},
                    "y": {"field": "mag", "type": "quantitative", "scale": {"domain": [-12.97, -8.54], "range": [16, 202.7], "nice": false, "zero": false},
                          "axis": {"orient": "right", "offset": -637, "values": [-12, -11, -10, -9], "labels": false, "tickSize": -8, "title": null}}}},
      {"data": {"values": [{"day": 50, "mag": -10}]}, "mark": {"type": "point", "opacity": 0},
       "encoding": {"x": {"field": "day", "type": "quantitative", "scale": {"domain": [0, 124.3], "range": [59.3, 448], "nice": false, "zero": false}, "axis": null},
                    "y": {"field": "mag", "type": "quantitative", "scale": {"domain": [-12.97, -8.54], "range": [16, 202.7], "nice": false, "zero": false},
                          "axis": {"orient": "left", "offset": -59.3, "values": [-12.9, -12.8, -12.7, -12.6, -12.5, -12.4, -12.3, -12.2, -12.1, -11.9, -11.8, -11.7, -11.6, -11.5, -11.4, -11.3, -11.2, -11.1, -10.9, -10.8, -10.7, -10.6, -10.5, -10.4, -10.3, -10.2, -10.1, -9.9, -9.8, -9.7, -9.6, -9.5, -9.4, -9.3, -9.2, -9.1, -8.9, -8.8, -8.7, -8.6], "labels": false, "domain": false, "tickSize": -4, "title": null}}}},
      {"data": {"values": [{"day": 50, "mag": -10}]}, "mark": {"type": "point", "opacity": 0},
       "encoding": {"x": {"field": "day", "type": "quantitative", "scale": {"domain": [0, 124.3], "range": [59.3, 448], "nice": false, "zero": false}, "axis": null},
                    "y": {"field": "mag", "type": "quantitative", "scale": {"domain": [-12.97, -8.54], "range": [16, 202.7], "nice": false, "zero": false},
                          "axis": {"orient": "right", "offset": -637, "values": [-12.9, -12.8, -12.7, -12.6, -12.5, -12.4, -12.3, -12.2, -12.1, -11.9, -11.8, -11.7, -11.6, -11.5, -11.4, -11.3, -11.2, -11.1, -10.9, -10.8, -10.7, -10.6, -10.5, -10.4, -10.3, -10.2, -10.1, -9.9, -9.8, -9.7, -9.6, -9.5, -9.4, -9.3, -9.2, -9.1, -8.9, -8.8, -8.7, -8.6], "labels": false, "domain": false, "tickSize": -4, "title": null}}}}
    ],
    "resolve": {"axis": {"x": "independent", "y": "independent"}}
  },
  {
    "layer": [
      {"data": {"name": "insb"}, "transform": [{"filter": "datum.s == 'S'"}], "mark": {"type": "line", "color": "#bdbdbd", "strokeWidth": 1.4, "strokeDash": [2, 3]},
       "encoding": {"x": {"field": "m", "type": "quantitative", "scale": {"domain": [0.757, 11.27], "range": [495, 885], "nice": false, "zero": false, "clamp": true}, "axis": null},
                    "y": {"field": "mag", "type": "quantitative", "scale": {"domain": [-18.54, -10.96], "range": [16, 204], "nice": false, "zero": false}, "axis": null}}},
      {"data": {"name": "insb"}, "transform": [{"filter": "datum.s == 'L'"}], "mark": {"type": "line", "color": "#ff6262", "strokeWidth": 1.4, "strokeDash": [2, 3]},
       "encoding": {"x": {"field": "m", "type": "quantitative", "scale": {"domain": [0.757, 11.27], "range": [495, 885], "nice": false, "zero": false, "clamp": true}, "axis": null},
                    "y": {"field": "mag", "type": "quantitative", "scale": {"domain": [-18.54, -10.96], "range": [16, 204], "nice": false, "zero": false}, "axis": null}}},
      {"data": {"name": "insb"}, "transform": [{"filter": "datum.err > 0"}], "mark": {"type": "errorbar", "color": "#333333", "thickness": 1.4},
       "encoding": {"x": {"field": "m", "type": "quantitative", "scale": {"domain": [0.757, 11.27], "range": [495, 885], "nice": false, "zero": false, "clamp": true}, "axis": null},
                    "y": {"field": "mag", "type": "quantitative", "scale": {"domain": [-18.54, -10.96], "range": [16, 204], "nice": false, "zero": false}, "axis": null},
                    "yError": {"field": "err"}}},
      {"data": {"name": "insb"}, "transform": [{"filter": "datum.s == 'S' && datum.m > 0.757 && datum.m < 11.27"}], "mark": {"type": "point", "filled": true, "color": "#a8a8a8", "stroke": "#7c7c7c", "strokeWidth": 0.7, "size": 40, "opacity": 1},
       "encoding": {"x": {"field": "m", "type": "quantitative", "scale": {"domain": [0.757, 11.27], "range": [495, 885], "nice": false, "zero": false, "clamp": true}, "axis": null},
                    "y": {"field": "mag", "type": "quantitative", "scale": {"domain": [-18.54, -10.96], "range": [16, 204], "nice": false, "zero": false}, "axis": null}}},
      {"data": {"name": "insb"}, "transform": [{"filter": "datum.s == 'L'"}], "mark": {"type": "point", "filled": true, "color": "#ff0000", "stroke": "#c00000", "strokeWidth": 0.6, "size": 100, "opacity": 1},
       "encoding": {"x": {"field": "m", "type": "quantitative", "scale": {"domain": [0.757, 11.27], "range": [495, 885], "nice": false, "zero": false, "clamp": true}, "axis": null},
                    "y": {"field": "mag", "type": "quantitative", "scale": {"domain": [-18.54, -10.96], "range": [16, 204], "nice": false, "zero": false}, "axis": null}}},
      {"data": {"values": [{"m": 4.73}]}, "mark": {"type": "rule", "color": "#111111", "strokeWidth": 1.2, "strokeDash": [3, 2]},
       "encoding": {"x": {"field": "m", "type": "quantitative", "scale": {"domain": [0.757, 11.27], "range": [495, 885], "nice": false, "zero": false, "clamp": true}, "axis": null},
                    "y": {"datum": -18.54, "type": "quantitative", "scale": {"domain": [-18.54, -10.96], "range": [16, 204], "nice": false, "zero": false}, "axis": null},
                    "y2": {"datum": -10.96}}},
      {"data": {"values": [{"t": "b", "m": 1.51, "mag": -17.46}]}, "mark": {"type": "text", "fontSize": 27, "color": "#333333", "align": "center", "baseline": "middle"},
       "encoding": {"x": {"field": "m", "type": "quantitative", "scale": {"domain": [0.757, 11.27], "range": [495, 885], "nice": false, "zero": false, "clamp": true}, "axis": null},
                    "y": {"field": "mag", "type": "quantitative", "scale": {"domain": [-18.54, -10.96], "range": [16, 204], "nice": false, "zero": false}, "axis": null}, "text": {"field": "t"}}},
      {"data": {"values": [{"t": "T", "m": 5.0, "mag": -11.81}]}, "mark": {"type": "text", "fontSize": 14, "color": "#111111", "align": "center", "baseline": "middle"},
       "encoding": {"x": {"field": "m", "type": "quantitative", "scale": {"domain": [0.757, 11.27], "range": [495, 885], "nice": false, "zero": false, "clamp": true}, "axis": null},
                    "y": {"field": "mag", "type": "quantitative", "scale": {"domain": [-18.54, -10.96], "range": [16, 204], "nice": false, "zero": false}, "axis": null}, "text": {"field": "t"}}},
      {"data": {"values": [{"t": "0", "m": 5.16, "mag": -11.41}]}, "mark": {"type": "text", "fontSize": 10, "fontWeight": "bold", "color": "#111111", "align": "center", "baseline": "middle"},
       "encoding": {"x": {"field": "m", "type": "quantitative", "scale": {"domain": [0.757, 11.27], "range": [495, 885], "nice": false, "zero": false, "clamp": true}, "axis": null},
                    "y": {"field": "mag", "type": "quantitative", "scale": {"domain": [-18.54, -10.96], "range": [16, 204], "nice": false, "zero": false}, "axis": null}, "text": {"field": "t"}}},
      {"data": {"values": [{"t": "R LBV-NGC2770", "m": 8.43, "mag": -12.05}]}, "mark": {"type": "text", "fontSize": 12, "color": "#ff2020", "align": "left", "baseline": "middle"},
       "encoding": {"x": {"field": "m", "type": "quantitative", "scale": {"domain": [0.757, 11.27], "range": [495, 885], "nice": false, "zero": false, "clamp": true}, "axis": null},
                    "y": {"field": "mag", "type": "quantitative", "scale": {"domain": [-18.54, -10.96], "range": [16, 204], "nice": false, "zero": false}, "axis": null}, "text": {"field": "t"}}},
      {"data": {"values": [{"t": "R SN2009ip", "m": 8.43, "mag": -11.61}]}, "mark": {"type": "text", "fontSize": 12, "color": "#8a8a8a", "align": "left", "baseline": "middle"},
       "encoding": {"x": {"field": "m", "type": "quantitative", "scale": {"domain": [0.757, 11.27], "range": [495, 885], "nice": false, "zero": false, "clamp": true}, "axis": null},
                    "y": {"field": "mag", "type": "quantitative", "scale": {"domain": [-18.54, -10.96], "range": [16, 204], "nice": false, "zero": false}, "axis": null}, "text": {"field": "t"}}},
      {"data": {"values": [{"m": 5, "mag": -14}]}, "mark": {"type": "point", "opacity": 0},
       "encoding": {"x": {"field": "m", "type": "quantitative", "scale": {"domain": [0.757, 11.27], "range": [495, 885], "nice": false, "zero": false, "clamp": true},
                          "axis": {"orient": "bottom", "offset": -237, "values": [2, 4, 6, 8, 10], "labelExpr": "datum.value == 2 ? '03/2015' : datum.value == 4 ? '05/2015' : datum.value == 6 ? '07/2015' : datum.value == 8 ? '09/2015' : '11/2015'", "labelFontSize": 12, "tickSize": -4.5, "labelPadding": 16, "title": null}},
                    "y": {"field": "mag", "type": "quantitative", "scale": {"domain": [-18.54, -10.96], "range": [16, 204], "nice": false, "zero": false},
                          "axis": {"orient": "left", "offset": -495, "values": [-18, -16, -14, -12], "labelExpr": "'-' + abs(datum.value)", "labelFontSize": 12, "tickSize": -8, "labelPadding": 13, "title": null}}}},
      {"data": {"values": [{"m": 5, "mag": -14}]}, "mark": {"type": "point", "opacity": 0},
       "encoding": {"x": {"field": "m", "type": "quantitative", "scale": {"domain": [0.757, 11.27], "range": [495, 885], "nice": false, "zero": false, "clamp": true},
                          "axis": {"orient": "top", "offset": -16, "values": [2, 4, 6, 8, 10], "labels": false, "tickSize": -4.5, "title": null}},
                    "y": {"field": "mag", "type": "quantitative", "scale": {"domain": [-18.54, -10.96], "range": [16, 204], "nice": false, "zero": false},
                          "axis": {"orient": "right", "offset": -200, "values": [-18, -16, -14, -12], "labels": false, "tickSize": -8, "title": null}}}},
      {"data": {"values": [{"m": 5, "mag": -14}]}, "mark": {"type": "point", "opacity": 0},
       "encoding": {"x": {"field": "m", "type": "quantitative", "scale": {"domain": [0.757, 11.27], "range": [495, 885], "nice": false, "zero": false, "clamp": true}, "axis": null},
                    "y": {"field": "mag", "type": "quantitative", "scale": {"domain": [-18.54, -10.96], "range": [16, 204], "nice": false, "zero": false},
                          "axis": {"orient": "left", "offset": -495, "values": [-17, -15, -13, -11], "labels": false, "domain": false, "tickSize": -4, "title": null}}}},
      {"data": {"values": [{"m": 5, "mag": -14}]}, "mark": {"type": "point", "opacity": 0},
       "encoding": {"x": {"field": "m", "type": "quantitative", "scale": {"domain": [0.757, 11.27], "range": [495, 885], "nice": false, "zero": false, "clamp": true}, "axis": null},
                    "y": {"field": "mag", "type": "quantitative", "scale": {"domain": [-18.54, -10.96], "range": [16, 204], "nice": false, "zero": false},
                          "axis": {"orient": "right", "offset": -200, "values": [-17, -15, -13, -11], "labels": false, "domain": false, "tickSize": -4, "title": null}}}}
    ],
    "resolve": {"axis": {"x": "independent", "y": "independent"}}
  }
],
"resolve": {"scale": {"x": "independent", "y": "independent"}}
}
